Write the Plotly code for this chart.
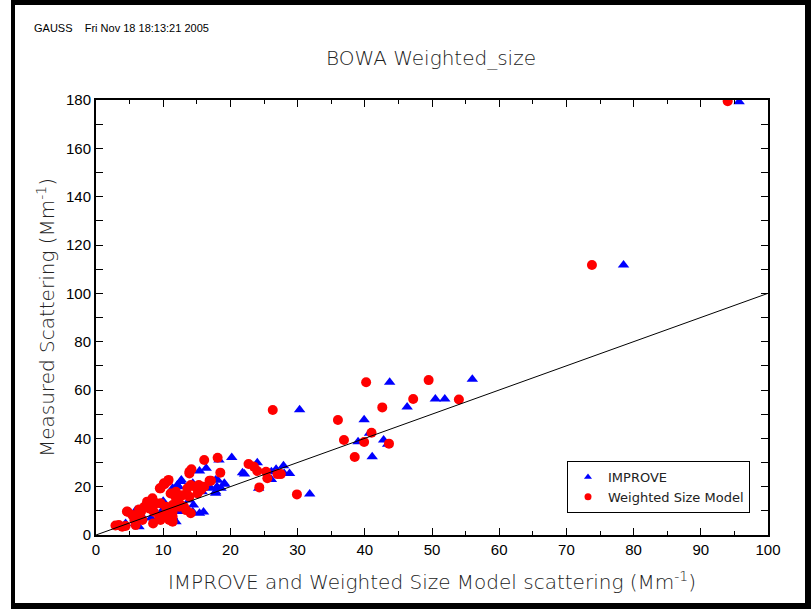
import plotly.graph_objects as go

# IMPROVE (blue triangles)
improve_x = [95.7, 78.5, 56.0, 43.7, 30.3, 50.5, 51.9, 46.3, 39.9, 40.7, 39.0, 42.8, 43.4, 41.1,
             27.9, 28.0, 28.8, 31.8, 24.0, 22.1, 26.1, 26.8, 26.1, 24.2, 20.2, 18.3, 16.4, 15.4,
             21.8, 12.7, 12.3, 14.4, 17.8, 18.0, 19.1, 18.6, 17.8, 15.4, 14.5, 9.1, 4.1, 5.9,
             12.4, 10.9, 11.4, 9.9, 4.4, 6.4, 11.1, 6.7, 12.6, 12.1, 18.1, 19.1, 17.1, 17.8,
             15.8, 13.9, 14.4, 11.4, 11.9, 11.1, 16.0, 7.5, 8.2, 13.0, 10.0]
improve_y = [179.3, 111.7, 64.4, 63.2, 51.8, 56.3, 56.3, 53.0, 47.7, 42.1, 38.6, 39.3, 37.6, 32.4,
             28.7, 25.4, 25.4, 17.0, 29.9, 25.2, 26.2, 27.2, 23.0, 19.3, 32.1, 31.0, 27.6, 26.5,
             25.8, 22.8, 20.0, 21.4, 22.8, 20.0, 21.0, 19.3, 17.3, 9.0, 12.4, 6.2, 3.4, 10.1,
             9.7, 7.6, 19.3, 10.3, 4.8, 3.4, 6.9, 8.3, 22.1, 20.7, 22.8, 21.4, 19.3, 17.9,
             17.9, 14.5, 9.6, 7.6, 5.5, 11.7, 9.5, 12.0, 7.0, 16.0, 14.0]

# Weighted Size Model (red circles)
wsm_x = [94.0, 73.8, 40.2, 49.5, 47.2, 54.0, 42.6, 36.0, 41.0, 36.9, 39.9, 43.6, 38.5, 27.5,
         29.9, 26.3, 22.7, 23.5, 24.0, 25.3, 27.0, 25.5, 24.3, 18.1, 16.1, 14.2, 13.9, 18.5,
         10.8, 10.1, 9.5, 15.3, 16.1, 16.9, 14.1, 11.4, 8.5, 2.9, 3.9, 5.9, 4.6, 6.4,
         12.4, 10.7, 11.1, 7.6, 8.4, 8.9, 7.2, 7.9, 9.6, 10.4, 10.9, 10.1, 9.4, 8.6,
         6.7, 6.2, 5.4, 4.7, 5.7, 6.9, 3.4, 4.4, 11.4, 10.9, 9.6, 13.9, 14.1, 13.6,
         14.8, 15.8, 15.6, 17.1, 15.1, 11.9, 12.9, 13.9, 11.9, 12.4, 13.1, 13.4, 11.4, 11.4,
         9.6, 10.2]
wsm_y = [179.5, 111.7, 63.2, 64.1, 56.3, 56.1, 52.8, 47.6, 42.3, 39.3, 38.5, 37.8, 32.3, 25.2,
         16.8, 51.7, 29.4, 28.3, 26.5, 26.2, 25.2, 23.5, 19.7, 32.0, 31.0, 27.2, 26.2, 25.8,
         22.8, 21.4, 19.3, 20.7, 20.0, 22.5, 9.0, 5.5, 4.8, 3.9, 3.4, 4.1, 9.7, 10.6,
         11.7, 22.3, 17.2, 13.8, 15.2, 13.1, 11.7, 11.0, 13.1, 11.7, 10.3, 8.3, 7.6, 9.6,
         9.6, 8.3, 8.3, 9.6, 6.2, 6.2, 4.1, 3.7, 7.6, 6.2, 6.2, 25.5, 20.7, 19.3,
         20.0, 20.0, 18.6, 22.5, 17.2, 17.9, 16.5, 15.8, 15.2, 13.1, 11.7, 10.3, 9.6, 12.4,
         19.3, 21.0]

# 1:1 reference line
line_x = [0, 100]
line_y = [0, 100]

x_ticks = [0, 10, 20, 30, 40, 50, 60, 70, 80, 90, 100]
y_ticks = [0, 20, 40, 60, 80, 100, 120, 140, 160, 180]

TICKFONT = dict(family="Liberation Sans Narrow, Liberation Sans, sans-serif", size=15, color="black")
LABFONT = dict(family="DejaVu Sans, sans-serif", size=20, color="#222", weight=200)

fig = go.Figure()
fig.add_trace(go.Scatter(x=improve_x, y=improve_y, mode="markers", name="IMPROVE", showlegend=False,
                         marker=dict(symbol="triangle-up", size=10, color="#0000ff")))
fig.add_trace(go.Scatter(x=wsm_x, y=wsm_y, mode="markers", name="Weighted Size Model", showlegend=False,
                         marker=dict(symbol="circle", size=10, color="#ff0000")))
fig.add_trace(go.Scatter(x=line_x, y=line_y, mode="lines", showlegend=False,
                         line=dict(color="black", width=1)))
# legend entries (small symbols as in the reference)
fig.add_trace(go.Scatter(x=[None], y=[None], mode="markers", name="IMPROVE",
                         marker=dict(symbol="triangle-up", size=7, color="#0000ff")))
fig.add_trace(go.Scatter(x=[None], y=[None], mode="markers", name="Weighted Size Model",
                         marker=dict(symbol="circle", size=7, color="#ff0000")))

W, H = 811, 609
L, R, T, B = 96, 43, 100, 74
pw, ph = W - L - R, H - T - B

def px(x):
    return (x - L) / pw

def py(y):
    return (H - B - y) / ph

shapes = []
# outer black frame
for (x0, y0, x1, y1) in [(11, 0, 811, 5), (11, 0, 15, 609), (805, 0, 811, 609), (11, 603, 811, 609)]:
    shapes.append(dict(type="rect", xref="paper", yref="paper",
                       x0=px(x0), x1=px(x1), y0=py(y1), y1=py(y0),
                       fillcolor="black", line=dict(width=0), layer="above"))

fig.update_layout(
    width=W, height=H,
    margin=dict(l=L, r=R, t=T, b=B),
    paper_bgcolor="white", plot_bgcolor="white",
    showlegend=True,
    legend=dict(x=px(567), y=py(461), xanchor="left", yanchor="top",
                bordercolor="black", borderwidth=1, bgcolor="white",
                font=dict(family="DejaVu Sans, sans-serif", size=13, color="#222"),
                itemwidth=30, tracegroupgap=2),
    shapes=shapes,
    annotations=[
        dict(text="GAUSS&nbsp;&nbsp;&nbsp;&nbsp;Fri Nov 18 18:13:21 2005", xref="paper", yref="paper",
             x=px(32), y=py(28), xanchor="left", yanchor="middle", showarrow=False,
             font=dict(family="Liberation Sans Narrow, Liberation Sans, sans-serif", size=11, color="black")),
        dict(text="BOWA Weighted_size", xref="paper", yref="paper",
             x=px(431), y=py(58), xanchor="center", yanchor="middle", showarrow=False,
             font=dict(family="DejaVu Sans, sans-serif", size=20, color="#222", weight=200)),
    ],
    xaxis=dict(range=[0, 100], tickvals=x_ticks, ticks="inside", ticklen=7, tickwidth=1,
               tickcolor="black", showline=True, linewidth=2, linecolor="black", mirror="ticks",
               showgrid=False, zeroline=False, tickfont=TICKFONT,
               minor=dict(ticks="inside", dtick=5, ticklen=4, tickcolor="black", showgrid=False),
               title=dict(text="IMPROVE and Weighted Size Model scattering (Mm<sup>-1</sup>)",
                          font=LABFONT, standoff=18)),
    yaxis=dict(range=[0, 180], tickvals=y_ticks, ticks="inside", ticklen=7, tickwidth=1,
               tickcolor="black", showline=True, linewidth=2, linecolor="black", mirror="ticks",
               showgrid=False, zeroline=False, tickfont=TICKFONT,
               minor=dict(ticks="inside", dtick=10, ticklen=7, tickcolor="black", showgrid=False),
               title=dict(text="Measured Scattering (Mm<sup>-1</sup>)", font=LABFONT, standoff=6)),
)

fig.write_html("out.html", config={"displayModeBar": False},
               post_script="document.body.style.margin='0';")
